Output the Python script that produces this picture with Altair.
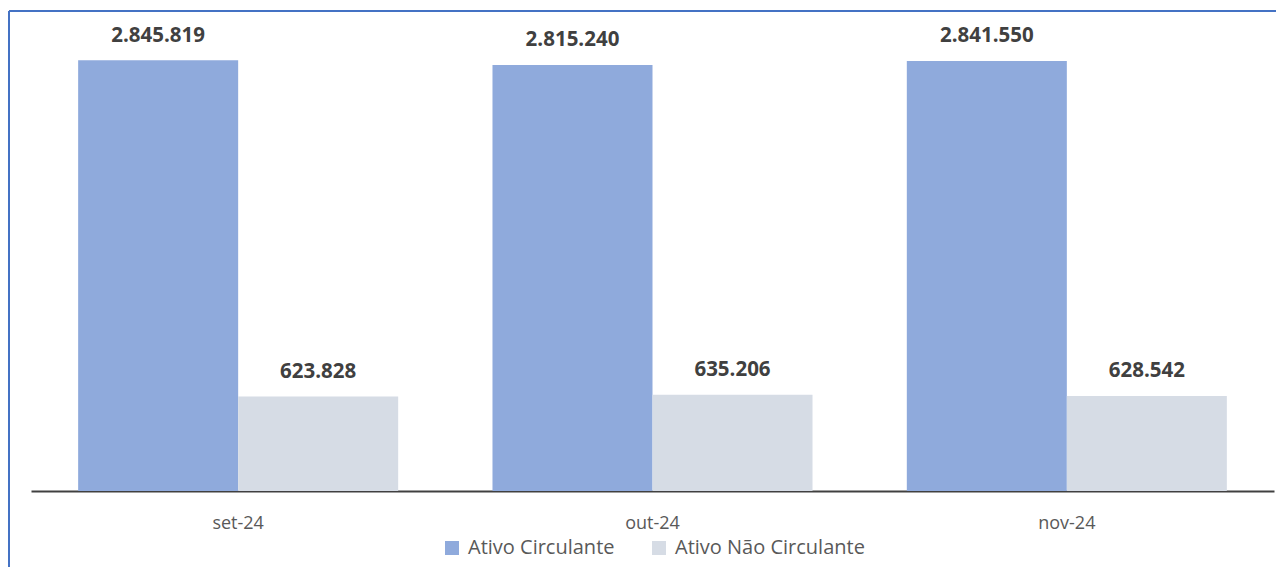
import altair as alt
import pandas as pd

months = ["set-24", "out-24", "nov-24"]
series = ["Ativo Circulante", "Ativo Não Circulante"]
ativo_circulante = [2845819, 2815240, 2841550]
ativo_nao_circulante = [623828, 635206, 628542]
colors = ["#8FAADC", "#D6DCE5"]

rows = []
for i, m in enumerate(months):
    rows.append({"mes": m, "serie": series[0], "valor": ativo_circulante[i]})
    rows.append({"mes": m, "serie": series[1], "valor": ativo_nao_circulante[i]})
df = pd.DataFrame(rows)
df["rotulo"] = df["valor"].map(lambda v: f"{v:,}".replace(",", "."))

FONT = "Open Sans"

x = alt.X("mes:N", sort=months, title=None,
          scale=alt.Scale(paddingInner=0.2276, paddingOuter=0.1138),
          axis=alt.Axis(labelAngle=0, ticks=False, domainColor="#404040", domainWidth=2,
                        labelColor="#595959", labelFontSize=18, labelFont=FONT,
                        labelPadding=23))
y = alt.Y("valor:Q", title=None, scale=alt.Scale(domain=[0, 3000000], nice=False),
          axis=None)
xoff = alt.XOffset("serie:N", sort=series, scale=alt.Scale(paddingInner=0, paddingOuter=0))

base = alt.Chart(df)

bars = base.mark_bar().encode(
    x=x, y=y, xOffset=xoff,
    color=alt.Color("serie:N", sort=series,
                    scale=alt.Scale(domain=series, range=colors),
                    legend=alt.Legend(title=None, orient="none", direction="horizontal",
                                      legendX=411, legendY=501, symbolType="square",
                                      symbolSize=196, symbolStrokeWidth=0,
                                      labelFontSize=20, labelFont=FONT, labelColor="#595959",
                                      labelLimit=400, labelOffset=6, columnPadding=34)),
)

labels = base.mark_text(font=FONT, fontSize=20.5, fontWeight="bold", color="#404040",
                        baseline="alphabetic", dy=-18.5).encode(
    x=x, y=y, xOffset=xoff, text="rotulo:N"
)

frame_df = pd.DataFrame({"a": [0]})
left_border = alt.Chart(frame_df).mark_rule(color="#4472C4", strokeWidth=2).encode(
    x=alt.value(-22), y=alt.value(-26), y2=alt.value(540)
)
top_border = alt.Chart(frame_df).mark_rule(color="#4472C4", strokeWidth=2).encode(
    x=alt.value(-22), x2=alt.value(1250), y=alt.value(-26)
)

chart = alt.layer(bars, labels, left_border, top_border).properties(
    width=1243, height=454,
    padding={"left": 23, "top": 29, "right": 2, "bottom": 76},
    autosize=alt.AutoSizeParams(type="none"),
).configure(background="white", view=alt.ViewConfig(stroke=None))

chart.save("out.html", embed_options={"renderer": "svg", "actions": False})
